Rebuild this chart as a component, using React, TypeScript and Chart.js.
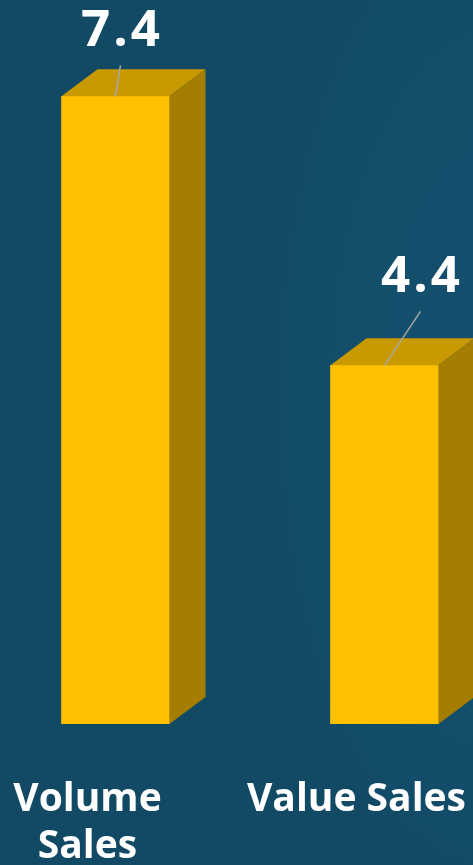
import React, { useEffect, useRef } from "react";
import { Chart, registerables } from "chart.js";

Chart.register(...registerables);

// ---- data ----
const categories: (string | string[])[] = [["Volume", "Sales"], "Value Sales"];
const values: number[] = [7.4, 4.4];
const valueLabels: string[] = ["7.4", "4.4"];

// ---- style constants ----
const LABEL_OFFSETS: [number, number][] = [
  [5, -50],
  [36, -73],
];
const DEPTH_X = 36;
const DEPTH_Y = 27;
const FRONT = "#FFC000";
const TOP = "#C99A00";
const SIDE = "#A57D00";
const BG = "#124A66";
const FONT = "'Open Sans', 'DejaVu Sans', sans-serif";

const threeD = {
  id: "threeD",
  afterDatasetsDraw(chart: any) {
    const ctx = chart.ctx as CanvasRenderingContext2D;
    const meta = chart.getDatasetMeta(0);
    const bottom = chart.chartArea.bottom;
    meta.data.forEach((bar: any, i: number) => {
      const { x, y, base, width } = bar.getProps(["x", "y", "base", "width"], true);
      const b = Math.min(base, bottom);
      const l = x - width / 2;
      const r = x + width / 2;
      ctx.save();
      // top face
      ctx.fillStyle = TOP;
      ctx.beginPath();
      ctx.moveTo(l, y);
      ctx.lineTo(l + DEPTH_X, y - DEPTH_Y);
      ctx.lineTo(r + DEPTH_X, y - DEPTH_Y);
      ctx.lineTo(r, y);
      ctx.closePath();
      ctx.fill();
      // side face
      ctx.fillStyle = SIDE;
      ctx.beginPath();
      ctx.moveTo(r, y);
      ctx.lineTo(r + DEPTH_X, y - DEPTH_Y);
      ctx.lineTo(r + DEPTH_X, b - DEPTH_Y);
      ctx.lineTo(r, b);
      ctx.closePath();
      ctx.fill();
      // leader line + label
      const [ox, oy] = LABEL_OFFSETS[i];
      const lx = x + ox;
      const ly = y + oy;
      ctx.strokeStyle = "#A6A6A6";
      ctx.lineWidth = 1.5;
      ctx.beginPath();
      ctx.moveTo(x, y);
      ctx.lineTo(lx, ly + 19);
      ctx.stroke();
      ctx.fillStyle = "#FFFFFF";
      ctx.font = `bold 51px ${FONT}`;
      (ctx as any).letterSpacing = "3px";
      ctx.textAlign = "center";
      ctx.textBaseline = "alphabetic";
      ctx.fillText(valueLabels[i], lx + 1.5, ly);
      ctx.restore();
    });
  },
};

export default function App() {
  const ref = useRef<HTMLCanvasElement | null>(null);

  useEffect(() => {
    document.body.style.margin = "0";
    const canvas = ref.current;
    if (!canvas) return;
    const chart = new Chart(canvas, {
      type: "bar",
      data: {
        labels: categories,
        datasets: [
          {
            data: values,
            backgroundColor: FRONT,
            borderWidth: 0,
            barThickness: 108,
          },
        ],
      },
      options: {
        responsive: false,
        animation: false,
        devicePixelRatio: 1,
        layout: { padding: { top: 42.5, left: 0, right: 0, bottom: 0 } },
        plugins: {
          legend: { display: false },
          tooltip: { enabled: false },
        },
        scales: {
          y: {
            display: false,
            min: 0.4,
            max: 8,
          },
          x: {
            grid: { display: false, drawTicks: false },
            border: { display: false },
            ticks: {
              color: "#FFFFFF",
              font: { family: FONT, size: 39, weight: "bold", lineHeight: 1.21 },
              padding: 52,
              labelOffset: -28,
              maxRotation: 0,
              autoSkip: false,
            },
            afterFit: (scale: any) => {
              scale.height = 141;
              scale.paddingLeft = 0;
              scale.paddingRight = 0;
            },
          },
        },
      },
      plugins: [threeD],
    });
    return () => chart.destroy();
  }, []);

  return (
    <div
      style={{
        position: "fixed",
        left: 0,
        top: 0,
        width: 473,
        height: 865,
        overflow: "hidden",
        background: `radial-gradient(ellipse 50% 60% at 105% 45%, #14506e 0%, #134e6b 60%, ${BG} 100%)`,
        backgroundColor: BG,
      }}
    >
      <canvas
        ref={ref}
        width={538}
        height={865}
        style={{ position: "absolute", left: -19, top: 0 }}
      />
    </div>
  );
}
